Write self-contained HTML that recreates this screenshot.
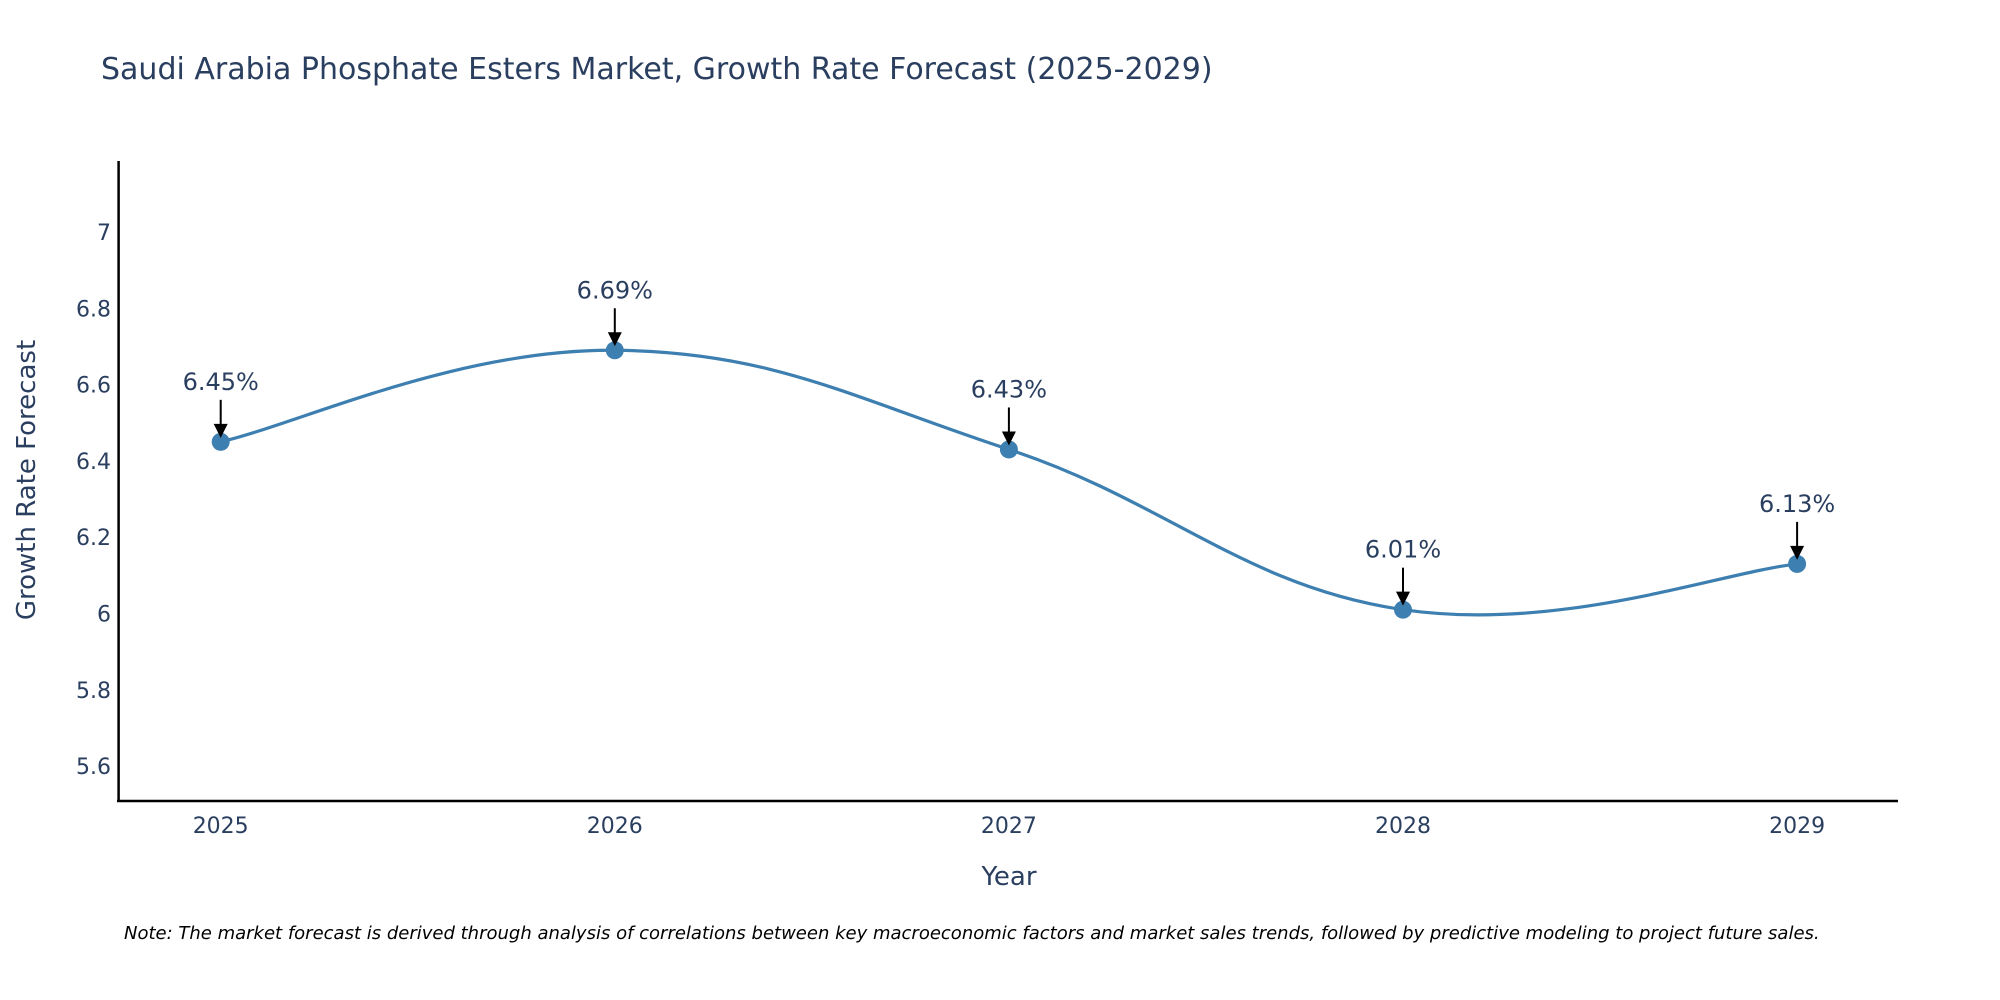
<!DOCTYPE html>
<html><head><meta charset="utf-8"><style>
html,body{margin:0;padding:0;background:#fff;}
svg{display:block;font-family:"DejaVu Sans","Liberation Sans",sans-serif;}
</style></head><body>
<svg id="chart" width="2000" height="1000" xmlns="http://www.w3.org/2000/svg">
<text x="101" y="79" font-size="30" fill="#2a3f5f">Saudi Arabia Phosphate Esters Market, Growth Rate Forecast (2025-2029)</text>
<g id="yticks"></g>
<g id="xticks"></g>
<line x1="118.6" y1="161" x2="118.6" y2="802" stroke="#000" stroke-width="2.5"/>
<line x1="117" y1="801" x2="1898" y2="801" stroke="#000" stroke-width="2.5"/>
<text transform="translate(35,480) rotate(-90)" text-anchor="middle" font-size="26" fill="#2a3f5f">Growth Rate Forecast</text>
<text x="1009" y="885" text-anchor="middle" font-size="26" fill="#2a3f5f">Year</text>
<path id="line" fill="none" stroke="#3d7fb0" stroke-width="3.2"/>
<g id="marks"></g>
<text x="124" y="939" font-size="18" font-style="italic" fill="#000">Note: The market forecast is derived through analysis of correlations between key macroeconomic factors and market sales trends, followed by predictive modeling to project future sales.</text>
</svg>
<script>
const years = [2025, 2026, 2027, 2028, 2029];
const values = [6.45, 6.69, 6.43, 6.01, 6.13];
const valueLabels = ["6.45%", "6.69%", "6.43%", "6.01%", "6.13%"];
const yTickValues = [5.6, 5.8, 6, 6.2, 6.4, 6.6, 6.8, 7];
const yTickLabels = ["5.6", "5.8", "6", "6.2", "6.4", "6.6", "6.8", "7"];

const NS = "http://www.w3.org/2000/svg";
const xScale = v => 220.7 + (v - 2025) * 394.1;
const yScale = v => 613.5 - (v - 6) * 381.5;

const yt = document.getElementById('yticks');
yTickValues.forEach((v, i) => {
  const t = document.createElementNS(NS, 'text');
  
  
  t.setAttribute('x', 111); t.setAttribute('y', yScale(v) + 8);
  t.setAttribute('text-anchor', 'end'); t.setAttribute('font-size', '22'); t.setAttribute('fill', '#2a3f5f');
  t.textContent = yTickLabels[i];
  yt.appendChild(t);
});
const xt = document.getElementById('xticks');
years.forEach(y => {
  const t = document.createElementNS(NS, 'text');
  
  
  t.setAttribute('x', xScale(y)); t.setAttribute('y', 833);
  t.setAttribute('text-anchor', 'middle'); t.setAttribute('font-size', '22'); t.setAttribute('fill', '#2a3f5f');
  t.textContent = String(y);
  xt.appendChild(t);
});

const pts = years.map((y, i) => [xScale(y), yScale(values[i])]);
let d = `M${pts[0][0]},${pts[0][1]}`;
const k = 0.2;
for (let i = 0; i < pts.length - 1; i++) {
  const p0 = pts[Math.max(0, i - 1)], p1 = pts[i], p2 = pts[i + 1], p3 = pts[Math.min(pts.length - 1, i + 2)];
  const c1 = [p1[0] + (p2[0] - p0[0]) * k, p1[1] + (p2[1] - p0[1]) * k];
  const c2 = [p2[0] - (p3[0] - p1[0]) * k, p2[1] - (p3[1] - p1[1]) * k];
  d += ` C${c1[0]},${c1[1]} ${c2[0]},${c2[1]} ${p2[0]},${p2[1]}`;
}
document.getElementById('line').setAttribute('d', d);

const mg = document.getElementById('marks');
pts.forEach((p, i) => {
  const c = document.createElementNS(NS, 'circle');
  
  
  c.setAttribute('cx', p[0]); c.setAttribute('cy', p[1]); c.setAttribute('r', 9);
  c.setAttribute('fill', '#3d7fb0');
  mg.appendChild(c);
  const a = document.createElementNS(NS, 'line');
  
  
  a.setAttribute('x1', p[0]); a.setAttribute('y1', p[1] - 42);
  a.setAttribute('x2', p[0]); a.setAttribute('y2', p[1] - 12);
  a.setAttribute('stroke', '#000'); a.setAttribute('stroke-width', '2');
  mg.appendChild(a);
  const h = document.createElementNS(NS, 'polygon');
  
  
  h.setAttribute('points', `${p[0]-7},${p[1]-18} ${p[0]+7},${p[1]-18} ${p[0]},${p[1]-4}`);
  h.setAttribute('fill', '#000');
  mg.appendChild(h);
  const t = document.createElementNS(NS, 'text');
  
  
  t.setAttribute('x', p[0]); t.setAttribute('y', p[1] - 52);
  t.setAttribute('text-anchor', 'middle'); t.setAttribute('font-size', '24'); t.setAttribute('fill', '#2a3f5f');
  t.textContent = valueLabels[i];
  mg.appendChild(t);
});
</script>
</body></html>
